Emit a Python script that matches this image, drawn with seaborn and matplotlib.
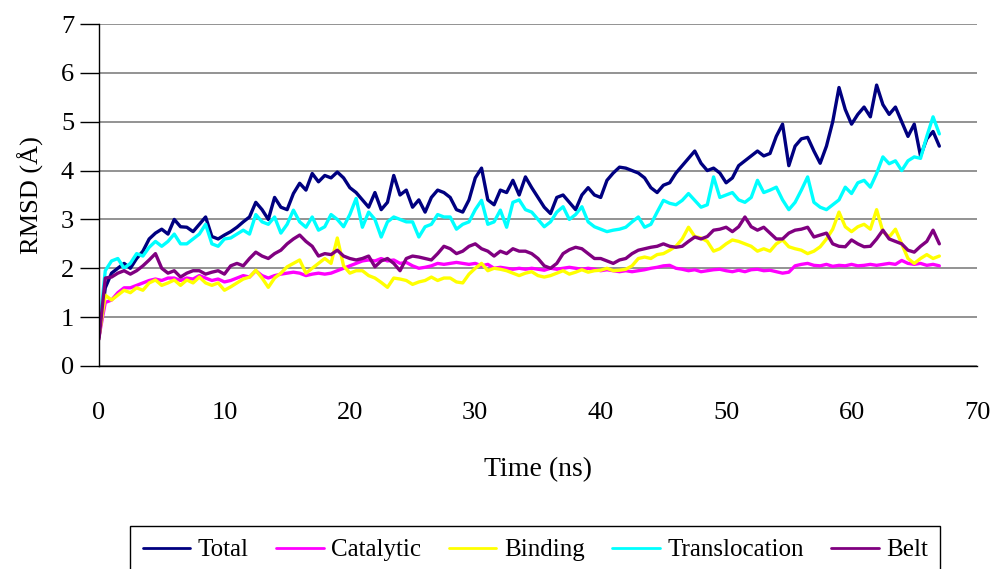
import numpy as np
import pandas as pd
import matplotlib
matplotlib.use("Agg")
import matplotlib.pyplot as plt
import seaborn as sns

time_ns = np.arange(0, 67.5, 0.5)

total = [
    0.6, 1.6, 1.9, 2.0, 2.1, 2.0, 2.2, 2.35, 2.6, 2.72,
    2.8, 2.7, 3.0, 2.85, 2.84, 2.75, 2.9, 3.05, 2.65, 2.6,
    2.68, 2.75, 2.84, 2.95, 3.05, 3.35, 3.2, 3.0, 3.45, 3.25,
    3.2, 3.53, 3.74, 3.6, 3.94, 3.77, 3.9, 3.85, 3.97, 3.85,
    3.65, 3.55, 3.4, 3.25, 3.55, 3.2, 3.35, 3.9, 3.5, 3.6,
    3.25, 3.4, 3.15, 3.45, 3.6, 3.55, 3.45, 3.2, 3.15, 3.4,
    3.85, 4.05, 3.4, 3.3, 3.6, 3.55, 3.8, 3.5, 3.87, 3.65,
    3.45, 3.25, 3.12, 3.45, 3.5, 3.35, 3.2, 3.5, 3.65, 3.5,
    3.45, 3.8, 3.95, 4.07, 4.05, 4.0, 3.95, 3.85, 3.65, 3.55,
    3.7, 3.75, 3.95, 4.1, 4.25, 4.4, 4.15, 4.0, 4.05, 3.95,
    3.75, 3.85, 4.1, 4.2, 4.3, 4.4, 4.3, 4.35, 4.7, 4.95,
    4.1, 4.5, 4.65, 4.68, 4.4, 4.15, 4.5, 5.0, 5.7, 5.25,
    4.95, 5.15, 5.3, 5.1, 5.75, 5.35, 5.15, 5.3, 5.0, 4.7,
    4.95, 4.3, 4.65, 4.8, 4.5,
]

catalytic = [
    0.6, 1.3, 1.35, 1.5, 1.6, 1.6, 1.65, 1.7, 1.75, 1.78,
    1.75, 1.8, 1.8, 1.75, 1.8, 1.78, 1.85, 1.8, 1.75, 1.78,
    1.72, 1.75, 1.8, 1.85, 1.82, 1.95, 1.85, 1.8, 1.85, 1.88,
    1.9, 1.92, 1.9, 1.85, 1.88, 1.9, 1.88, 1.9, 1.95, 2.0,
    2.05, 2.1, 2.15, 2.17, 2.15, 2.2, 2.15, 2.17, 2.1, 2.12,
    2.05, 2.0, 2.02, 2.05, 2.1, 2.08, 2.1, 2.12, 2.1, 2.08,
    2.1, 2.05, 2.08, 2.0, 2.02, 2.0, 1.98, 2.0, 1.98, 2.0,
    1.98, 1.96, 2.0, 1.98, 2.0, 2.02, 2.0, 1.98, 2.0, 1.98,
    1.95, 1.97, 1.95, 1.93, 1.95, 1.93, 1.95, 1.97, 2.0, 2.02,
    2.05, 2.06, 2.0, 1.98, 1.95, 1.97, 1.93, 1.95, 1.97, 1.98,
    1.95, 1.93, 1.96, 1.93, 1.97, 1.98, 1.95, 1.96, 1.93, 1.9,
    1.92, 2.05, 2.08, 2.1, 2.06, 2.05, 2.08, 2.04, 2.06, 2.05,
    2.08, 2.05, 2.06, 2.08, 2.06, 2.08, 2.1, 2.08, 2.16, 2.1,
    2.08, 2.1, 2.06, 2.08, 2.05,
]

binding = [
    0.6, 1.45, 1.35, 1.45, 1.55, 1.5, 1.6, 1.55, 1.7, 1.76,
    1.65, 1.7, 1.76, 1.65, 1.76, 1.7, 1.82, 1.7, 1.65, 1.7,
    1.55, 1.62, 1.7, 1.78, 1.82, 1.96, 1.8, 1.61, 1.8, 1.9,
    2.03, 2.1, 2.17, 1.9, 2.0, 2.1, 2.2, 2.1, 2.62, 2.05,
    1.9, 1.95, 1.95, 1.85, 1.8, 1.71, 1.61, 1.8, 1.78, 1.75,
    1.67, 1.72, 1.75, 1.82, 1.75, 1.8, 1.8, 1.72, 1.7, 1.88,
    2.0, 2.1, 1.95, 2.0, 1.98, 1.95, 1.9, 1.85, 1.9, 1.93,
    1.85, 1.82, 1.85, 1.9, 1.95, 1.88, 1.92, 1.97, 1.92, 1.95,
    1.96, 2.0, 1.95, 1.96, 1.98, 2.05, 2.2, 2.23, 2.2, 2.28,
    2.3, 2.37, 2.45, 2.6, 2.84, 2.65, 2.62, 2.55, 2.35, 2.4,
    2.5, 2.58, 2.55, 2.5, 2.45, 2.35, 2.4, 2.35, 2.5, 2.58,
    2.44, 2.4, 2.37, 2.3, 2.35, 2.44, 2.6, 2.8, 3.15, 2.85,
    2.75, 2.85, 2.9, 2.8, 3.2, 2.75, 2.64, 2.8, 2.5, 2.2,
    2.1, 2.2, 2.28, 2.2, 2.25,
]

translocation = [
    0.7, 1.95, 2.15, 2.2, 2.0, 2.1, 2.3, 2.25, 2.43, 2.55,
    2.45, 2.55, 2.7, 2.5, 2.5, 2.6, 2.7, 2.9, 2.5, 2.45,
    2.6, 2.62, 2.7, 2.78, 2.7, 3.1, 2.95, 2.9, 3.05, 2.72,
    2.9, 3.19, 2.95, 2.84, 3.05, 2.78, 2.85, 3.1, 3.0, 2.85,
    3.1, 3.43, 2.84, 3.15, 3.0, 2.64, 2.95, 3.05, 3.0, 2.95,
    2.95, 2.64, 2.85, 2.9, 3.1, 3.05, 3.05, 2.8, 2.9, 2.95,
    3.2, 3.39, 2.9, 2.95, 3.19, 2.84, 3.35, 3.4, 3.2, 3.15,
    3.0, 2.85, 2.95, 3.15, 3.26, 3.0, 3.1, 3.26, 2.95, 2.85,
    2.8, 2.75, 2.78, 2.8, 2.84, 2.95, 3.05, 2.84, 2.9, 3.15,
    3.39, 3.33, 3.3, 3.39, 3.53, 3.39, 3.25, 3.3, 3.87, 3.45,
    3.5, 3.55, 3.4, 3.35, 3.45, 3.8, 3.55, 3.6, 3.66, 3.4,
    3.2, 3.35, 3.6, 3.87, 3.35, 3.25, 3.2, 3.3, 3.4, 3.66,
    3.53, 3.75, 3.8, 3.66, 3.94, 4.28, 4.14, 4.2, 4.0, 4.2,
    4.28, 4.25, 4.7, 5.1, 4.75,
]

belt = [
    0.55, 1.8, 1.82, 1.9, 1.95, 1.88, 1.95, 2.05, 2.17, 2.3,
    2.0, 1.9, 1.95, 1.82, 1.9, 1.95, 1.95, 1.88, 1.92, 1.95,
    1.88, 2.05, 2.1, 2.05, 2.2, 2.33, 2.25, 2.2, 2.3, 2.37,
    2.5, 2.6, 2.68, 2.55, 2.45, 2.25, 2.3, 2.28, 2.37, 2.25,
    2.2, 2.17, 2.2, 2.25, 2.03, 2.15, 2.2, 2.1, 1.95, 2.2,
    2.25, 2.23, 2.2, 2.17, 2.3, 2.45, 2.4, 2.3, 2.35, 2.45,
    2.5, 2.4, 2.35, 2.25, 2.35, 2.3, 2.4, 2.35, 2.35, 2.3,
    2.2, 2.05, 2.0, 2.1, 2.3, 2.38, 2.43, 2.4, 2.3, 2.2,
    2.2, 2.15, 2.1, 2.17, 2.2, 2.3, 2.37, 2.4, 2.43, 2.45,
    2.5, 2.45, 2.43, 2.45, 2.55, 2.64, 2.6, 2.65, 2.78, 2.8,
    2.84, 2.75, 2.85, 3.05, 2.85, 2.78, 2.84, 2.72, 2.6, 2.6,
    2.72, 2.78, 2.8, 2.84, 2.64, 2.68, 2.72, 2.5, 2.45, 2.44,
    2.58, 2.5, 2.44, 2.45, 2.6, 2.78, 2.6, 2.55, 2.5, 2.37,
    2.33, 2.45, 2.55, 2.78, 2.5,
]

series_names = ["Total", "Catalytic", "Binding", "Translocation", "Belt"]
series_colors = ["#000080", "#FF00FF", "#FFFF00", "#00FFFF", "#800080"]
y_ticks = [0, 1, 2, 3, 4, 5, 6, 7]
x_ticks = [0, 10, 20, 30, 40, 50, 60, 70]

# 長形式に変換
frames = []
for name, vals in zip(series_names, [total, catalytic, binding, translocation, belt]):
    assert len(vals) == len(time_ns), name
    frames.append(pd.DataFrame({"time": time_ns, "rmsd": vals, "series": name}))
df = pd.concat(frames, ignore_index=True)

sns.set_theme(style="white")
plt.rcParams["font.family"] = ["Liberation Serif", "DejaVu Serif"]
plt.rcParams["text.color"] = "black"
plt.rcParams["axes.labelcolor"] = "black"
plt.rcParams["xtick.color"] = "black"
plt.rcParams["ytick.color"] = "black"

fig = plt.figure(figsize=(9.97, 5.69), dpi=100)
ax = fig.add_axes([0.0993, 0.3568, 0.8806, 0.6010])

sns.lineplot(data=df, x="time", y="rmsd", hue="series", hue_order=series_names,
             palette=series_colors, linewidth=2.4, ax=ax, legend=False,
             estimator=None, sort=False)

ax.set_xlim(0, 70)
ax.set_ylim(0, 7)
ax.set_xticks(x_ticks)
ax.set_yticks(y_ticks)
ax.yaxis.grid(True, color="#808080", linewidth=1.2)
ax.xaxis.grid(False)
ax.set_axisbelow(True)

for side in ["top", "right"]:
    ax.spines[side].set_visible(False)
for side in ["left", "bottom"]:
    ax.spines[side].set_color("black")
    ax.spines[side].set_linewidth(1.0)

ax.tick_params(axis="x", direction="inout", length=14, width=1,
               pad=19, labelsize=19)
ax.tick_params(axis="y", direction="out", length=14, width=1,
               pad=4, labelsize=19, left=True)

ax.set_xlabel("Time (ns)", fontsize=20, labelpad=24)
ax.set_ylabel("RMSD (Å)", fontsize=19, labelpad=12)

# 凡例（下端は図の外にはみ出す）
handles = [plt.Line2D([], [], color=c, linewidth=2) for c in series_colors]
leg = fig.legend(handles, series_names, loc="upper center",
                 bbox_to_anchor=(0.537, 0.075), ncol=5, fontsize=18,
                 frameon=True, fancybox=False, edgecolor="black",
                 framealpha=1, handlelength=1.9, handletextpad=0.3,
                 columnspacing=1.1, borderpad=0.5, borderaxespad=0)
leg.get_frame().set_linewidth(1.0)

fig.savefig("out.png", dpi=100)
